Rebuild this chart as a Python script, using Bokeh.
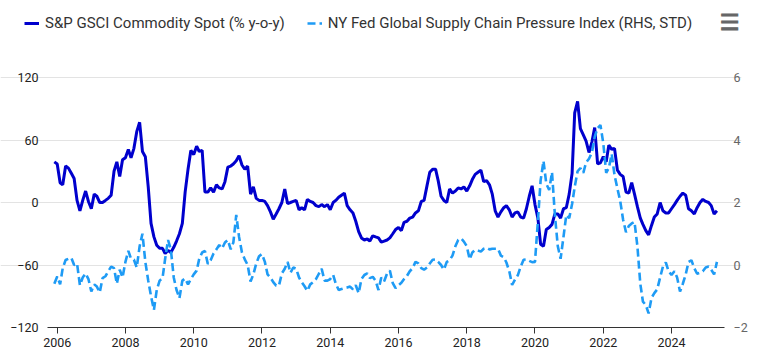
import pandas as pd
from bokeh.plotting import figure
from bokeh.models import (Range1d, LinearAxis, FixedTicker, DatetimeTickFormatter,
                          Legend, LegendItem, Label, ColumnDataSource)
from bokeh.embed import file_html
from bokeh.resources import INLINE

# Monthly data, first observation Dec 2005
first_month = "2005-12-01"

gsci_yoy = [
    39,
    37, 19, 17, 35, 33, 28, 23, 2, -8, 2, 11, 1,            # 2006
    -6, 8, 6, 0, 0, 2, 4, 7, 30, 39, 25, 41,                # 2007
    43, 51, 43, 52, 68, 77, 49, 44, 15, -20, -33, -41,      # 2008
    -44, -44, -49, -46, -48, -43, -37, -30, -20, 10, 32, 50,  # 2009
    46, 54, 49, 50, 10, 10, 14, 10, 17, 14, 13, 20,         # 2010
    34, 35, 37, 40, 45, 36, 32, 35, 8, 15, 4, 2,            # 2011
    2, 1, -3, -9, -16, -11, -6, 0, 13, -1, 0, 1,            # 2012
    2, -7, -5, -7, 3, 1, 0, -3, -4, -2, -4, -2,             # 2013
    -7, 0, 2, 5, 7, 9, -3, -7, -10, -18, -28, -34,          # 2014
    -36, -35, -37, -32, -33, -34, -38, -37, -36, -34, -30, -26,  # 2015
    -24, -27, -19, -18, -15, -14, -10, -8, 1, 2, 16, 29,    # 2016
    32, 32, 21, 6, 2, 0, 13, 9, 11, 14, 13, 15,             # 2017
    11, 16, 22, 27, 29, 31, 20, 21, 17, 8, -8, -14,         # 2018
    -9, -5, -3, -7, -14, -10, -9, -14, -15, -6, 6, 16,      # 2019
    -2, -15, -40, -42, -26, -24, -21, -11, -11, -15, -6, -5,  # 2020
    8, 28, 86, 97, 71, 65, 59, 48, 58, 72, 37, 38,          # 2021
    44, 39, 55, 51, 52, 31, 27, 25, 10, 9, 19, 8,           # 2022
    -4, -15, -21, -27, -31, -22, -14, -11, 0, -8, -10, -10,  # 2023
    -6, -2, 2, 6, 9, 7, -6, -8, -11, -5, 0, 3,              # 2024
    1, 0, -3, -11, -8,                                       # 2025
]

gscpi_std = [
    -0.6,
    -0.37, -0.62, -0.1, 0.16, 0.2, 0.23, 0.0, 0.05, -0.65, -0.4, -0.27, -0.45,   # 2006
    -0.85, -0.62, -0.69, -0.88, -0.42, -0.36, -0.2, -0.05, -0.1, -0.6, -0.15, -0.4,  # 2007
    0.1, 0.45, 0.2, 0.17, -0.08, 0.6, 1.0, 0.1, -0.5, -1.0, -1.44, -0.8,        # 2008
    -0.5, -0.42, 0.2, 0.8, 0.5, -0.4, -0.8, -1.06, -0.5, -0.43, -0.62, -0.45,   # 2009
    -0.3, -0.18, 0.2, 0.4, 0.45, 0.03, 0.15, 0.37, 0.5, 0.64, 0.53, 0.72,       # 2010
    0.8, 0.5, 0.72, 1.6, 0.9, 0.4, 0.18, 0.0, -0.53, -0.3, 0.05, 0.28,          # 2011
    0.35, 0.1, -0.3, -0.4, -0.55, -0.66, -0.66, -0.27, -0.12, 0.1, -0.25, -0.08,  # 2012
    -0.12, -0.4, -0.55, -0.68, -0.83, -0.62, -0.55, -0.45, -0.28, -0.12, -0.5, -0.5,  # 2013
    -0.45, -0.32, -0.6, -0.8, -0.77, -0.74, -0.72, -0.69, -0.78, -0.65, -0.9, -0.45,  # 2014
    -0.32, -0.27, -0.42, -0.38, -0.5, -0.8, -0.4, -0.52, -0.27, -0.18, -0.58, -0.74,  # 2015
    -0.65, -0.57, -0.45, -0.35, -0.2, -0.1, 0.1, 0.05, -0.1, -0.15, -0.08, 0.05,  # 2016
    0.17, 0.18, 0.1, 0.0, -0.15, 0.1, 0.15, 0.3, 0.6, 0.8, 0.85, 0.75,          # 2017
    0.6, 0.18, 0.4, 0.48, 0.46, 0.43, 0.52, 0.55, 0.5, 0.52, 0.52, 0.52,        # 2018
    0.3, 0.25, 0.08, -0.2, -0.64, -0.47, -0.33, -0.05, 0.17, 0.18, 0.13, 0.09,  # 2019
    0.1, 1.4, 2.7, 3.33, 2.6, 2.4, 2.97, 1.6, 0.6, 0.2, 0.9, 1.6,               # 2020
    1.5, 1.95, 2.5, 3.0, 3.1, 2.95, 3.28, 3.4, 3.6, 4.1, 4.38, 4.48,            # 2021
    3.9, 2.95, 3.1, 3.55, 2.88, 2.45, 2.05, 1.45, 1.05, 1.25, 1.33, 1.38,       # 2022
    0.6, -0.6, -1.17, -1.28, -1.55, -1.05, -0.9, -0.78, -0.4, -0.05, 0.08, -0.2,  # 2023
    -0.32, -0.2, -0.4, -0.85, -0.6, -0.3, 0.1, 0.15, -0.1, -0.28, -0.25, -0.2,  # 2024
    -0.08, -0.05, -0.15, -0.3, 0.1,                                              # 2025
]

tick_years = [2006, 2008, 2010, 2012, 2014, 2016, 2018, 2020, 2022, 2024]
left_ticks = [-120, -60, 0, 60, 120]
right_ticks = [-2, 0, 2, 4, 6]

series1_name = "S&P GSCI Commodity Spot (% y-o-y)"
series2_name = "NY Fed Global Supply Chain Pressure Index (RHS, STD)"
menu_icon = "☰"

C1 = "#0000CD"
C2 = "#1E9BF5"
FONT = "Roboto"

dates = pd.date_range(first_month, periods=len(gsci_yoy), freq="MS")
src = ColumnDataSource(dict(date=dates, gsci=gsci_yoy, gscpi=gscpi_std))

# plotting area (where grid lines and x axis line are drawn)
area_start = pd.Timestamp("2005-09-22")
area_end = pd.Timestamp("2025-07-21")
area_bounds = (area_start.value // 10**6, area_end.value // 10**6)

# The frame spans the whole canvas so that legend and menu icon can sit inside it;
# the ranges are widened accordingly (left: -120..120 maps to 250 px).
p = figure(frame_width=741, frame_height=327,
           output_backend="svg", toolbar_location=None,
           x_axis_type="datetime",
           x_range=Range1d(pd.Timestamp("2004-05-04"), pd.Timestamp("2026-01-19")),
           y_range=Range1d(-120, 193.92),
           min_border_left=0, min_border_right=0, min_border_top=0, min_border_bottom=0)
p.outline_line_color = None
p.extra_y_ranges = {"rhs": Range1d(-2, 8.464)}

r1 = p.line("date", "gsci", source=src, line_color=C1, line_width=3)
r2 = p.line("date", "gscpi", source=src, line_color=C2, line_width=2.6,
            line_dash="8 4", y_range_name="rhs")

xa = p.xaxis[0]
xa.bounds = area_bounds
xa.ticker = FixedTicker(ticks=[pd.Timestamp(f"{y}-01-01").value // 10**6 for y in tick_years])
xa.formatter = DatetimeTickFormatter(years="%Y", months="%Y", days="%Y", hours="%Y",
                                     minutes="%Y", seconds="%Y", milliseconds="%Y")
xa.axis_line_color = "#333333"
xa.major_tick_line_color = "#333333"
xa.major_tick_out = 6
xa.major_tick_in = 0
xa.minor_tick_line_color = None
xa.major_label_text_font = FONT
xa.major_label_text_font_size = "12.5px"
xa.major_label_text_color = "#222222"
xa.major_label_standoff = 4

ya = p.yaxis[0]
ya.ticker = FixedTicker(ticks=left_ticks)
ya.axis_line_color = None
ya.major_tick_line_color = None
ya.major_tick_out = 0
ya.major_tick_in = 0
ya.minor_tick_line_color = None
ya.major_label_text_font = FONT
ya.major_label_text_font_size = "12.5px"
ya.major_label_text_color = "#222222"
ya.major_label_standoff = -38

ra = LinearAxis(y_range_name="rhs", ticker=FixedTicker(ticks=right_ticks))
ra.axis_line_color = None
ra.major_tick_line_color = None
ra.major_tick_out = 0
ra.major_tick_in = 0
ra.minor_tick_line_color = None
ra.major_label_text_font = FONT
ra.major_label_text_font_size = "12.5px"
ra.major_label_text_color = "#666666"
ra.major_label_standoff = -8
p.add_layout(ra, "right")

p.xgrid.grid_line_color = None
p.ygrid.grid_line_color = "#e3e3e3"
p.ygrid.grid_line_width = 1
p.ygrid.bounds = area_bounds

legend = Legend(items=[LegendItem(label=series1_name, renderers=[r1]),
                       LegendItem(label=series2_name, renderers=[r2])],
                orientation="horizontal", location=(24, 295),
                glyph_width=15, glyph_height=16, label_standoff=6, spacing=22,
                padding=0, margin=0, border_line_color=None, background_fill_alpha=0,
                label_text_font=FONT, label_text_font_size="15px",
                label_text_color="#333333", label_height=16)
p.add_layout(legend, "center")

menu = Label(x=729, y=305, x_units="screen", y_units="screen", text=menu_icon,
             text_font="DejaVu Sans", text_font_size="22px", text_font_style="bold",
             text_color="#666666", text_outline_color="#666666",
             text_align="center", text_baseline="middle")
p.add_layout(menu)

open("out.html", "w").write(file_html(p, INLINE))
